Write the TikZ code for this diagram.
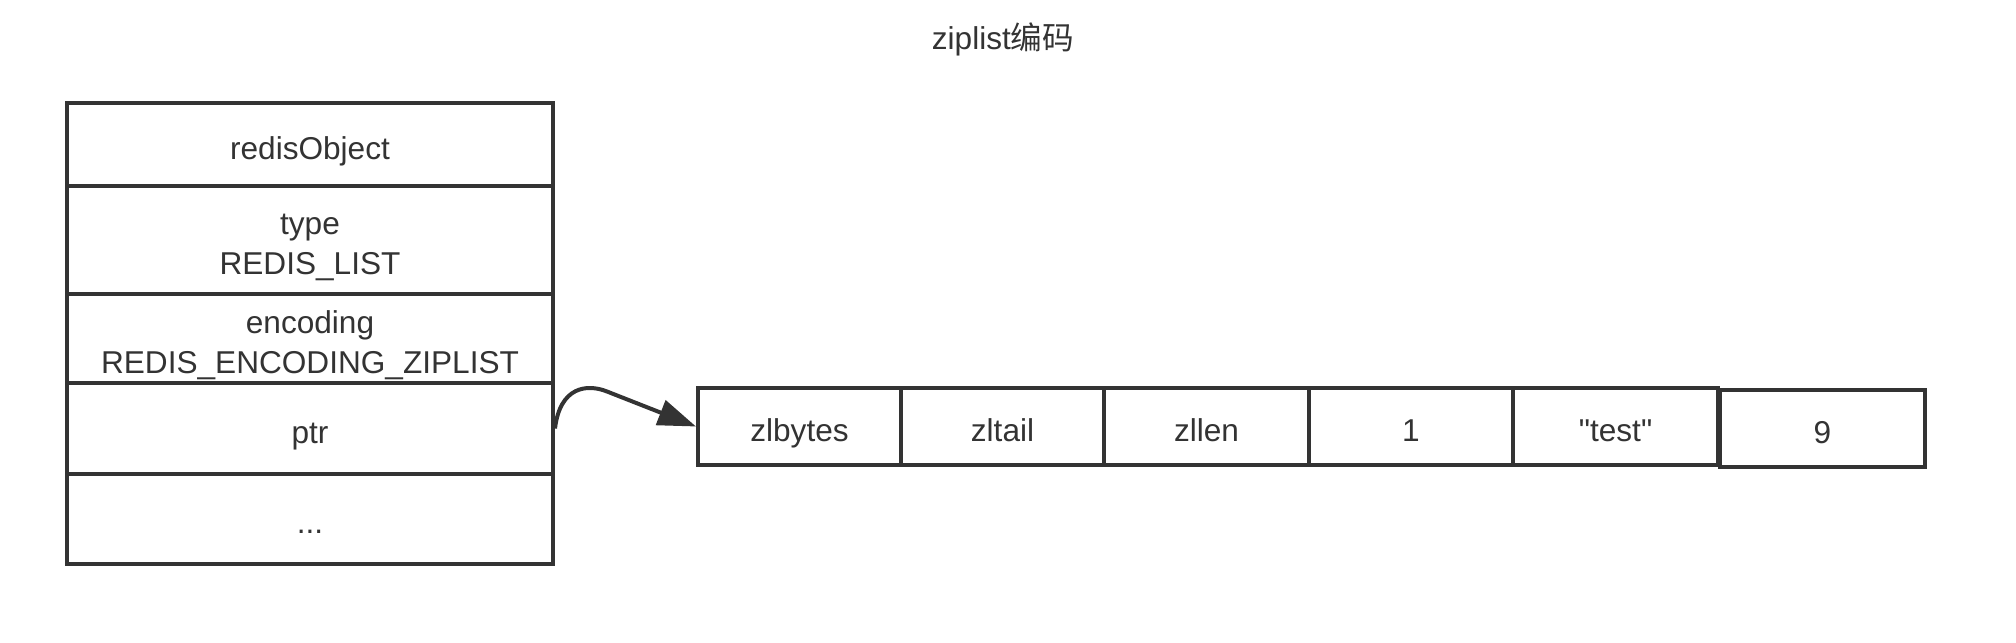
\documentclass[tikz,border=0pt]{standalone}
\usepackage{fontspec}
\setmainfont{Liberation Sans}[Ligatures=TeXOff]
\newfontfamily\cjk{Noto Sans CJK SC}
\usetikzlibrary{arrows.meta}
\definecolor{ink}{HTML}{333333}
\newcommand\celltext[1]{\raisebox{-7pt}[0pt][0pt]{\begin{tabular}{@{}c@{}}#1\end{tabular}}}
\begin{document}
\begin{tikzpicture}[x=0.5pt,y=-0.5pt,
  every node/.style={font=\fontsize{15.8pt}{20pt}\selectfont, text=ink},
  cell/.style={draw=ink, line width=2pt, rectangle, inner sep=0pt},
  link/.style={draw=ink, line width=2pt, -{Triangle[length=19pt,width=13pt]}}]
\useasboundingbox (0,0) rectangle (2016,642);
\node (title) at (1003,39) {ziplist{\cjk 编码}};
% redisObject stack
\node[cell, minimum width=243pt, minimum height=41.5pt] (obj) at (310,144.5) {\celltext{redisObject}};
\node[cell, minimum width=243pt, minimum height=54pt] (type) at (310,240) {\celltext{type\\REDIS\_LIST}};
\node[cell, minimum width=243pt, minimum height=44.5pt] (enc) at (310,338.5) {\celltext{encoding\\REDIS\_ENCODING\_ZIPLIST}};
\node[cell, minimum width=243pt, minimum height=45.5pt] (ptr) at (310,428.5) {\celltext{ptr}};
\node[cell, minimum width=243pt, minimum height=45pt] (more) at (310,519) {\celltext{...}};
% ziplist cells
\node[cell, minimum width=101.5pt, minimum height=38.5pt] (zl1) at (799.5,426.5) {\celltext{zlbytes}};
\node[cell, minimum width=101.5pt, minimum height=38.5pt] (zl2) at (1002.5,426.5) {\celltext{zltail}};
\node[cell, minimum width=102.5pt, minimum height=38.5pt] (zl3) at (1206.5,426.5) {\celltext{zllen}};
\node[cell, minimum width=102pt, minimum height=38.5pt] (zl4) at (1411,426.5) {\celltext{1}};
\node[cell, minimum width=102.5pt, minimum height=38.5pt] (zl5) at (1615.5,426.5) {\celltext{"test"}};
\node[cell, minimum width=102.5pt, minimum height=38.5pt] (zl6) at (1822.5,428.5) {\celltext{9}};
% pointer
\draw[link] (ptr.east) .. controls +(5,-42) and +(-20,-8) .. ++(52,-37) -- (zl1.west);
\end{tikzpicture}
\end{document}
